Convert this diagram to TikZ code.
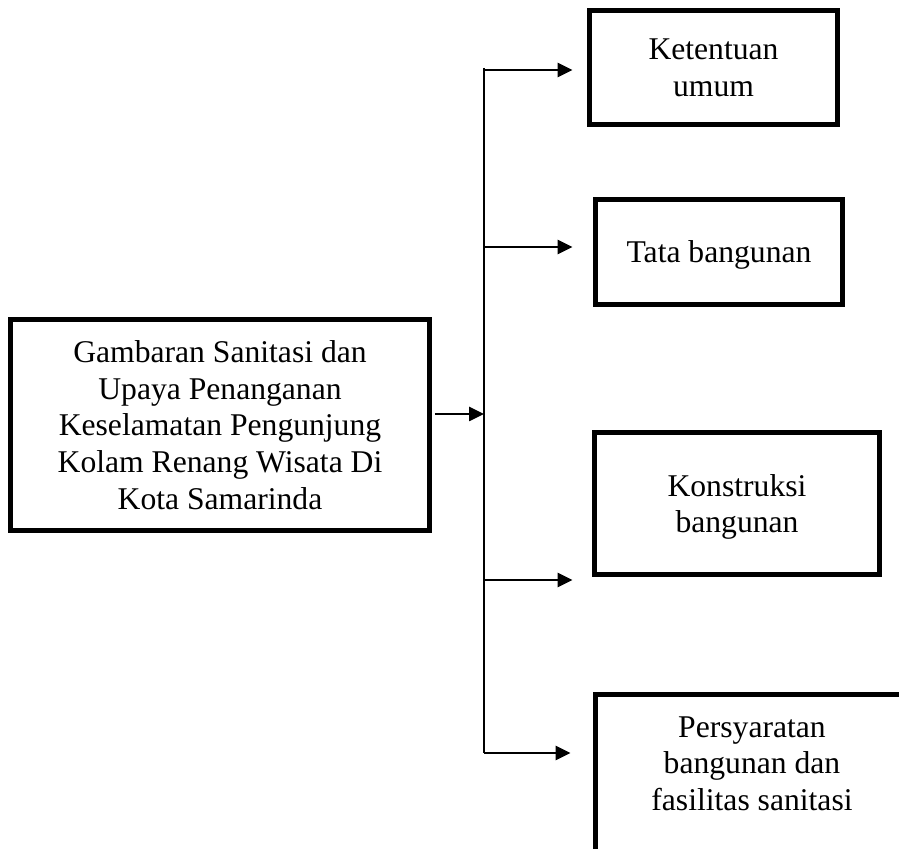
\documentclass[tikz,border=0pt]{standalone}
\usepackage{fontspec}
\setmainfont{Liberation Serif}
\usetikzlibrary{arrows.meta,positioning}

\begin{document}
\begin{tikzpicture}
	\tikzstyle{every node}=[font=\fontsize{18}{20.9}\selectfont]
	\tikzstyle{box}=[draw, line width=2.8pt, align=center, inner sep=0pt, text depth=0pt]
	\tikzstyle{arr}=[line width=1.5pt, ->, >={Triangle[length=0.3cm,width=0.28cm]}]
	\path [use as bounding box, clip] (0,0) rectangle (17.98,16.98);
	\node [box, minimum width=8.38cm, minimum height=4.22cm] (main) at (4.40,8.48) {Gambaran Sanitasi dan\\Upaya Penanganan\\Keselamatan Pengunjung\\Kolam Renang Wisata Di\\Kota Samarinda};
	\node [box, minimum width=4.96cm, minimum height=2.28cm] (ketentuan) at (14.27,15.63) {Ketentuan\\umum};
	\node [box, minimum width=4.94cm, minimum height=2.10cm] (tata) at (14.38,11.94) {Tata bangunan};
	\node [box, minimum width=5.70cm, minimum height=2.84cm] (konstruksi) at (14.74,6.91) {Konstruksi\\bangunan};
	\node [draw, line width=2.8pt, inner sep=0pt, anchor=north] (syarat) at (15.04,3.13) {\begin{minipage}[t][4cm][t]{6.26cm}\centering\vspace{0.43cm}Persyaratan\\bangunan dan\\fasilitas sanitasi\end{minipage}};
	% trunk
	\coordinate (top) at (9.68,15.62);
	\coordinate (split) at (9.68,8.70);
	\coordinate (bot) at (9.68,1.92);
	\coordinate (b1) at (9.68,15.58);
	\coordinate (b2) at (9.68,12.04);
	\coordinate (b3) at (9.68,5.38);
	\draw [line width=1.1pt] (top) -- (bot);
	\draw [arr] ([xshift=0.06cm]main.east |- split) -- (split);
	\draw [arr, shorten >=0.29cm] (b1) -- (b1 -| ketentuan.west);
	\draw [arr, shorten >=0.41cm] (b2) -- (b2 -| tata.west);
	\draw [arr, shorten >=0.39cm] (b3) -- (b3 -| konstruksi.west);
	\draw [arr, shorten >=0.45cm] (bot) -- (bot -| syarat.west);
\end{tikzpicture}
\end{document}
